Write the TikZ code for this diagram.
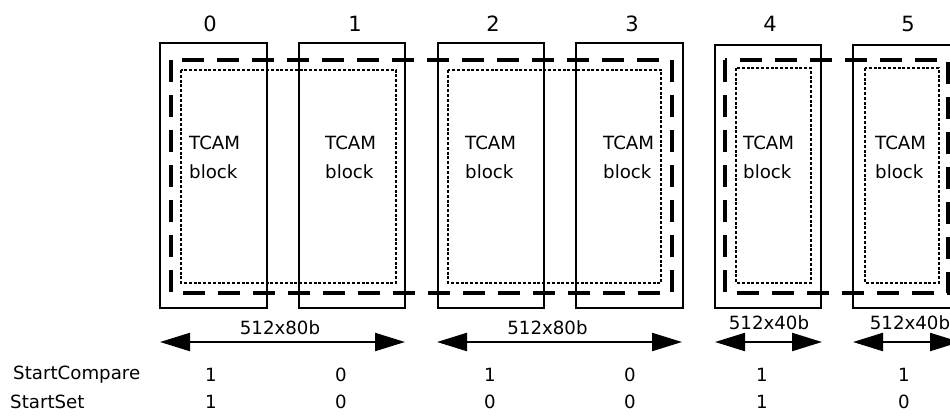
\documentclass[tikz,border=0pt]{standalone}
\usepackage{fontspec}
\setmainfont{DejaVu Sans}
\usetikzlibrary{arrows.meta}
\begin{document}
\begin{tikzpicture}[x=1pt,y=-1pt,
  blockbox/.style={draw,line width=2.2pt,inner sep=0pt},
  grpdash/.style={draw,line width=3.2pt,dash pattern=on 22pt off 13pt},
  innerdot/.style={draw,line width=1.8pt,dash pattern=on 3pt off 1.8pt},
  numlbl/.style={font=\fontsize{21}{24}\selectfont},
  txt/.style={font=\fontsize{18.2}{29}\selectfont,inner sep=0pt},
  dimarrow/.style={line width=2.2pt,{Triangle[length=30pt,width=18pt]}-{Triangle[length=30pt,width=18pt]}}]
\useasboundingbox (0,0) rectangle (950,418);
\clip (0,0) rectangle (950,418);
% solid blocks
\path[blockbox] (160,43) rectangle (267,308);
\path[blockbox] (299,43) rectangle (405,308);
\path[blockbox] (438,43) rectangle (544,308);
\path[blockbox] (576,43) rectangle (683,308);
\path[blockbox] (715,45) rectangle (821,308);
\path[blockbox] (853,45) rectangle (959,308);
% dashed group rectangles
\path[grpdash] (171,60) rectangle (672,293);
\path[grpdash] (725,60) rectangle (948,293);
% dotted inner rectangles
\path[innerdot] (181,70) rectangle (396,283);
\path[innerdot] (448,70) rectangle (661,283);
\path[innerdot] (736,68) rectangle (811,283);
\path[innerdot] (865,68) rectangle (939,283);
% block numbers
\node[numlbl] (n0) at (210,24) {0};
\node[numlbl] (n1) at (355,24) {1};
\node[numlbl] (n2) at (493,24) {2};
\node[numlbl] (n3) at (632,24) {3};
\node[numlbl] (n4) at (770,24) {4};
\node[numlbl] (n5) at (908,24) {5};
% TCAM block labels
\node[txt,anchor=west,align=left] (t0) at (189,157.5) {TCAM\\block};
\node[txt,anchor=west,align=left] (t1) at (325,157.5) {TCAM\\block};
\node[txt,anchor=west,align=left] (t2) at (465,157.5) {TCAM\\block};
\node[txt,anchor=west,align=left] (t3) at (603,157.5) {TCAM\\block};
\node[txt,anchor=west,align=left] (t4) at (743,157.5) {TCAM\\block};
\node[txt,anchor=west,align=left] (t5) at (875,157.5) {TCAM\\block};
% size arrows
\coordinate (a0l) at (160,342); \coordinate (a0r) at (405,342);
\coordinate (a1l) at (437,342); \coordinate (a1r) at (682,342);
\coordinate (a2l) at (715,342); \coordinate (a2r) at (822,342);
\coordinate (a3l) at (853,342); \coordinate (a3r) at (960,342);
\draw[dimarrow] (a0l) -- (a0r);
\draw[dimarrow] (a1l) -- (a1r);
\draw[dimarrow] (a2l) -- (a2r);
\draw[dimarrow] (a3l) -- (a3r);
\node[txt] (s0) at (280,328) {512x80b};
\node[txt] (s1) at (547.5,328) {512x80b};
\node[txt] (s2) at (769,323) {512x40b};
\node[txt] (s3) at (910,323) {512x40b};
% control rows
\node[txt,anchor=west] (rc) at (13,375) {StartCompare};
\node[txt,anchor=west] (rs) at (10,402) {StartSet};
\foreach \x/\c/\s [count=\i] in {211/1/1,341/0/0,490/1/0,630/0/0,762/1/1,904/1/0}{
  \node[txt] (c\i) at (\x,375) {\c};
  \node[txt] (s\i) at (\x,402) {\s};
}
\end{tikzpicture}
\end{document}
